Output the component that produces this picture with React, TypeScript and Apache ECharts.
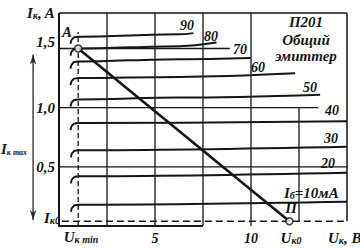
import { useEffect, useRef } from 'react';
import * as echarts from 'echarts';

// ---- data ----
// collector current curves (U in V, I in A), labelled by base current (mA)
const baseCurrentsMA = [10, 20, 30, 40, 50, 60, 70, 80, 90];
const curve10 = [[0.62, 0.12], [0.68, 0.155], [0.8, 0.175], [1.0, 0.18], [15, 0.205]];
const curve20 = [[0.62, 0.36], [0.68, 0.395], [0.8, 0.415], [1.0, 0.42], [15, 0.45]];
const curve30 = [[0.62, 0.58], [0.68, 0.615], [0.8, 0.635], [1.0, 0.64], [15, 0.67]];
const curve40 = [[0.6, 0.81], [0.66, 0.845], [0.78, 0.865], [1.0, 0.87], [15, 0.885]];
const curve50 = [[0.6, 1.01], [0.66, 1.045], [0.78, 1.065], [1.0, 1.07], [6.3, 1.085], [13.6, 1.11]];
const curve60 = [[0.6, 1.19], [0.66, 1.225], [0.78, 1.245], [1.0, 1.25], [6.3, 1.26], [12.3, 1.29]];
const curve70 = [[0.6, 1.33], [0.66, 1.365], [0.78, 1.385], [1.0, 1.39], [6.3, 1.41], [10.0, 1.42]];
const curve80 = [[0.6, 1.44], [0.66, 1.475], [0.78, 1.495], [1.0, 1.5], [6.3, 1.52], [8.2, 1.55]];
const curve90 = [[0.6, 1.54], [0.66, 1.575], [0.78, 1.595], [1.0, 1.6], [6.3, 1.62], [7.0, 1.63]];
const curves = [curve10, curve20, curve30, curve40, curve50, curve60, curve70, curve80, curve90];

// load line A -> Uk0
const loadLineU = [1.0, 12.0];
const loadLineI = [1.5, 0.04];

const uMin = 1.0; // Uк min
const iK0 = 0.04; // Iк0
const iMaxArrowU = -1.35;
const iMaxArrowI = [0.05, 1.45];

// grid / frame
const vGridU = [2.5, 5, 7.5, 10];
const xTickValues = [5, 10];
const xTickLabels = ['5', '10'];
const yTickValues = [0.5, 1.0, 1.5];
const yTickLabels = ['0,5', '1,0', '1,5'];

const INK = '#151515';
const FONT = "'Liberation Serif', serif";
const base = { fontFamily: FONT, fontStyle: 'italic', fontWeight: 'bold', fill: INK } as any;

function seg(data: any[], width: number, dash?: number[]) {
  return {
    type: 'line',
    data,
    symbol: 'none',
    clip: false,
    silent: true,
    lineStyle: { color: INK, width, type: dash ? dash : 'solid', cap: 'butt' },
    z: 2,
  };
}

function txt(text: string, x: number, y: number, size = 14, align = 'center', rich?: any) {
  return {
    type: 'text',
    x,
    y,
    z: 100,
    silent: true,
    style: { ...base, text, fontSize: size, align, verticalAlign: 'middle', rich },
  };
}

const subRich = {
  n: { ...base, fontSize: 15 },
  s: { ...base, fontSize: 10, verticalAlign: 'bottom' },
  t: { ...base, fontSize: 8, verticalAlign: 'bottom' },
};

export default function App() {
  const ref = useRef<HTMLDivElement>(null);
  useEffect(() => {
    document.body.style.margin = '0';
    const chart = echarts.init(ref.current!, null, { renderer: 'svg' });

    const series: any[] = [];
    // vertical grid lines
    vGridU.forEach((u) => series.push(seg([[u, 0], [u, 1.8]], 1.3)));
    series.push(seg([[12.5, iK0], [12.5, 1.0]], 1.3));
    // horizontal grid lines
    series.push(seg([[0, 0.5], [15, 0.5]], 1.3));
    series.push(seg([[0, 1.0], [13.5, 1.0]], 1.3));
    series.push(seg([[-1.77, 1.5], [8.9, 1.5]], 1.4));
    // frame
    series.push(seg([[0, 1.8], [15, 1.8]], 1.5));
    series.push(seg([[15, iK0], [15, 1.8]], 1.5));
    series.push(seg([[0, 0], [0, 1.8]], 2));
    series.push(seg([[-1.6, 0], [7.5, 0]], 1.8));
    // dashed lines
    series.push(seg([[uMin, 0], [uMin, 1.64]], 1.3, [5, 3]));
    series.push(seg([[0.15, iK0], [15, iK0]], 1.3, [7, 4]));
    // Iк max arrow heads
    series.push({
      type: 'scatter',
      clip: false,
      silent: true,
      symbol: 'arrow',
      symbolSize: [5, 10],
      data: [
        { value: [iMaxArrowU, iMaxArrowI[0]], symbolRotate: 180 },
        { value: [iMaxArrowU, iMaxArrowI[1]], symbolRotate: 0 },
      ],
      itemStyle: { color: INK },
      z: 3,
    });
    // characteristic curves
    curves.forEach((c, i) =>
      series.push({
        type: 'line',
        name: baseCurrentsMA[i] + ' мА',
        data: c,
        symbol: 'none',
        smooth: 0.35,
        smoothMonotone: 'x',
        clip: false,
        silent: true,
        lineStyle: { color: INK, width: 2 },
        z: 4,
      })
    );
    // load line
    series.push({
      type: 'line',
      data: loadLineU.map((u, i) => [u, loadLineI[i]]),
      symbol: 'none',
      clip: false,
      silent: true,
      lineStyle: { color: INK, width: 2.6 },
      z: 5,
    });
    // points A and П
    series.push({
      type: 'scatter',
      data: loadLineU.map((u, i) => [u, loadLineI[i]]),
      symbol: 'circle',
      symbolSize: 7,
      clip: false,
      silent: true,
      itemStyle: { color: '#fff', borderColor: INK, borderWidth: 1.6 },
      z: 6,
    });

    const graphic: any[] = [
      txt('{n|I}{s|к}{n|, A}', 27, 13, 15, 'left', subRich),
      txt('A', 67, 32, 15),
      txt('{n|I}{t|к max}', 1, 149, 15, 'left', subRich),
      txt('{n|I}{s|к0}', 44, 218, 15, 'left', subRich),
      txt('{n|U}{s|к min}', 81, 237, 15, 'center', subRich),
      txt('{n|U}{s|к0}', 291, 238, 15, 'center', subRich),
      txt('{n|U}{s|к}{n|, B}', 328, 238, 15, 'left', subRich),
      txt('90', 187, 25),
      txt('80', 211, 36),
      txt('70', 240, 49),
      txt('60', 258, 67),
      txt('50', 310, 87),
      txt('40', 332, 110),
      txt('30', 331, 138),
      txt('20', 328, 163),
      txt('{n|I}{s|б}{n|=10мА}', 284, 193, 15, 'left', subRich),
      txt('П', 291, 208, 15),
      txt('П201', 306, 22, 15),
      txt('Общий', 306, 40, 15),
      txt('эмиттер', 306, 56, 15),
    ];

    const labelStyle = { fontFamily: FONT, fontStyle: 'italic', fontWeight: 'bold', fontSize: 14, color: INK };

    chart.setOption({
      animation: false,
      backgroundColor: '#fff',
      grid: { left: 59, right: 13, top: 13, bottom: 22 },
      xAxis: {
        type: 'value',
        min: 0,
        max: 15,
        interval: 2.5,
        axisLine: { show: false },
        axisTick: { show: false },
        splitLine: { show: false },
        axisLabel: {
          ...labelStyle,
          margin: 5,
          formatter: (v: number) => {
            const i = xTickValues.findIndex((t) => Math.abs(t - v) < 1e-6);
            return i < 0 ? '' : xTickLabels[i];
          },
        },
      },
      yAxis: {
        type: 'value',
        min: 0,
        max: 1.8,
        interval: 0.5,
        axisLine: { show: false },
        axisTick: { show: false },
        splitLine: { show: false },
        axisLabel: {
          ...labelStyle,
          margin: 4,
          showMaxLabel: false,
          formatter: (v: number) => {
            const i = yTickValues.findIndex((t) => Math.abs(t - v) < 1e-6);
            if (i < 0) return '';
            return i === 2 ? `{up|${yTickLabels[i]}}` : `{n|${yTickLabels[i]}}`;
          },
          rich: {
            n: { ...labelStyle, fontSize: 15 },
            up: { ...labelStyle, fontSize: 15, padding: [0, 0, 14, 0] },
          },
        },
      },
      series,
      graphic,
    });

    // Iк max arrow shaft, positioned through the chart's own scales
    const p0 = chart.convertToPixel({ gridIndex: 0 }, [iMaxArrowU, iMaxArrowI[0]]) as number[];
    const p1 = chart.convertToPixel({ gridIndex: 0 }, [iMaxArrowU, iMaxArrowI[1]]) as number[];
    chart.setOption({
      graphic: [
        ...graphic,
        {
          type: 'line',
          z: 3,
          silent: true,
          shape: { x1: p0[0], y1: p0[1], x2: p1[0], y2: p1[1] },
          style: { stroke: INK, lineWidth: 1.2 },
        },
      ],
    });
    return () => chart.dispose();
  }, []);
  return <div ref={ref} style={{ width: 360, height: 248, background: '#fff' }} />;
}
